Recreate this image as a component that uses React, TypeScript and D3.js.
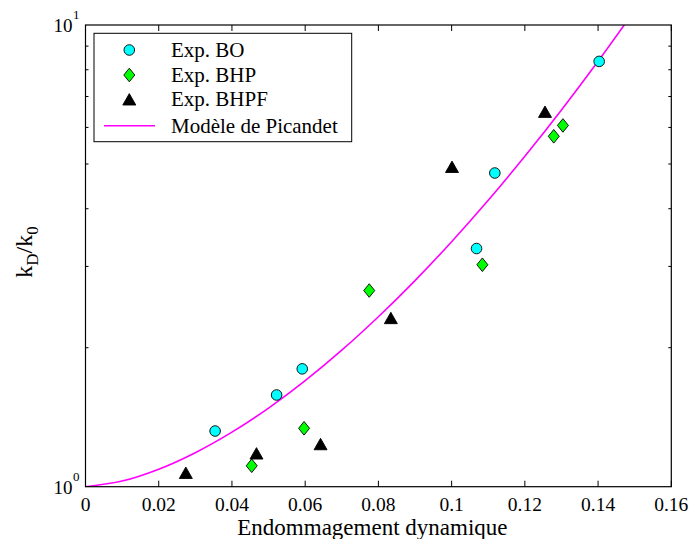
import React from "react";
import * as d3 from "d3";

// Experimental series (damage D, kD/k0)
const boD = [0.0354, 0.0522, 0.0592, 0.1068, 0.1118, 0.1403];
const boK = [1.32, 1.58, 1.80, 3.28, 4.78, 8.34];

const bhpD = [0.0454, 0.0597, 0.0775, 0.1084, 0.1279, 0.1304];
const bhpK = [1.11, 1.338, 2.66, 3.025, 5.74, 6.06];

const bhpfD = [0.0274, 0.0467, 0.0642, 0.0834, 0.1001, 0.1255];
const bhpfK = [1.072, 1.181, 1.237, 2.32, 4.93, 6.49];

// Picandet model curve samples
const modelD = [0, 0.01, 0.02, 0.03, 0.04, 0.05, 0.06, 0.07, 0.08, 0.09, 0.10, 0.11, 0.12, 0.13, 0.14, 0.15];
const modelK = [1, 1.0284, 1.0912, 1.1849, 1.3125, 1.4801, 1.6967, 1.9753, 2.3338, 2.7955, 3.3937, 4.173, 5.1955, 6.5468, 8.3451, 10.762];

const xTicks = [0, 0.02, 0.04, 0.06, 0.08, 0.1, 0.12, 0.14, 0.16];
const xTickLabels = ["0", "0.02", "0.04", "0.06", "0.08", "0.1", "0.12", "0.14", "0.16"];
const yMinorTicks = [2, 3, 4, 5, 6, 7, 8, 9];
const yMajorTicks = [1, 10];
const yMajorExp = ["0", "1"];

const legendLabels = ["Exp. BO", "Exp. BHP", "Exp. BHPF", "Modèle de Picandet"];

const W = 693;
const H = 539;
const L = 85.5;
const R = 671.3;
const T = 25;
const B = 486.7;

const FONT = "'Liberation Serif', 'Times New Roman', serif";

const x = d3.scaleLinear().domain([0, 0.16]).range([L, R]);
const y = d3.scaleLog().domain([1, 10]).range([B, T]);

function Circle({ cx, cy }: { cx: number; cy: number }) {
  return <circle cx={cx} cy={cy} r={5.3} fill="#00ffff" stroke="#000" strokeWidth={0.9} />;
}
function Diamond({ cx, cy }: { cx: number; cy: number }) {
  const w = 5.5, h = 6.8;
  return (
    <path
      d={`M${cx},${cy - h}L${cx + w},${cy}L${cx},${cy + h}L${cx - w},${cy}Z`}
      fill="#00ff00"
      stroke="#000"
      strokeWidth={0.9}
    />
  );
}
function Tri({ cx, cy }: { cx: number; cy: number }) {
  const w = 6.5, h = 5.7;
  return (
    <path
      d={`M${cx},${cy - h}L${cx + w},${cy + h}L${cx - w},${cy + h}Z`}
      fill="#000"
      stroke="#000"
      strokeWidth={0.9}
    />
  );
}

export default function App() {
  const line = d3
    .line<number>()
    .x((_, i) => x(modelD[i]))
    .y((k) => y(k))
    .curve(d3.curveCatmullRom);
  const modelPath = line(modelK) || "";

  const legRows = [50, 75, 99.3, 125.7];

  return (
    <svg width={W} height={H} style={{ position: "absolute", left: 0, top: 0 }} fontFamily={FONT}>
      <rect x={0} y={0} width={W} height={H} fill="#fff" />
      <defs>
        <clipPath id="plotclip">
          <rect x={L} y={T} width={R - L} height={B - T} />
        </clipPath>
      </defs>

      {/* x ticks bottom & top */}
      {xTicks.map((t, i) => (
        <g key={"xt" + i}>
          <line x1={x(t)} x2={x(t)} y1={B} y2={B - 6} stroke="#000" strokeWidth={1} />
          <line x1={x(t)} x2={x(t)} y1={T} y2={T + 6} stroke="#000" strokeWidth={1} />
          <text x={x(t)} y={511} fontSize={19.5} textAnchor="middle" fill="#000">
            {xTickLabels[i]}
          </text>
        </g>
      ))}

      {/* y minor ticks */}
      {yMinorTicks.map((t) => (
        <g key={"ym" + t}>
          <line x1={L} x2={L + 3} y1={y(t)} y2={y(t)} stroke="#000" strokeWidth={1} />
          <line x1={R} x2={R - 3} y1={y(t)} y2={y(t)} stroke="#000" strokeWidth={1} />
        </g>
      ))}

      {/* y major labels */}
      {yMajorTicks.map((t, i) => (
        <g key={"yM" + t}>
          <text x={72.5} y={y(t) + 7} fontSize={19} textAnchor="end" fill="#000">
            10
          </text>
          <text x={73} y={y(t) - 6} fontSize={13} textAnchor="start" fill="#000">
            {yMajorExp[i]}
          </text>
        </g>
      ))}

      {/* model curve */}
      <path d={modelPath} fill="none" stroke="#ff00ff" strokeWidth={1.6} clipPath="url(#plotclip)" />

      {/* data markers */}
      {boD.map((d, i) => (
        <Circle key={"bo" + i} cx={x(d)} cy={y(boK[i])} />
      ))}
      {bhpD.map((d, i) => (
        <Diamond key={"bhp" + i} cx={x(d)} cy={y(bhpK[i])} />
      ))}
      {bhpfD.map((d, i) => (
        <Tri key={"bhpf" + i} cx={x(d)} cy={y(bhpfK[i])} />
      ))}

      {/* frame */}
      <rect x={L} y={T} width={R - L} height={B - T} fill="none" stroke="#000" strokeWidth={1.2} />

      {/* legend */}
      <rect x={94} y={33.3} width={257.7} height={108.4} fill="#fff" stroke="#000" strokeWidth={1} />
      <Circle cx={129.3} cy={legRows[0]} />
      <Diamond cx={129.3} cy={legRows[1]} />
      <Tri cx={129.3} cy={legRows[2]} />
      <line x1={104} x2={155} y1={legRows[3]} y2={legRows[3]} stroke="#ff00ff" strokeWidth={1.6} />
      {legendLabels.map((lab, i) => (
        <text key={lab} x={171} y={legRows[i] + 7} fontSize={21} fill="#000">
          {lab}
        </text>
      ))}

      {/* axis labels */}
      <text x={(L + R) / 2 - 6} y={534.5} fontSize={23} textAnchor="middle" fill="#000">
        Endommagement dynamique
      </text>
      <g transform={`translate(32, 252) rotate(-90)`}>
        <text x={0} y={0} fontSize={24} textAnchor="middle" fill="#000">
          <tspan>k</tspan>
          <tspan fontSize={17} dy={6}>D</tspan>
          <tspan dy={-6}>/k</tspan>
          <tspan fontSize={17} dy={6}>0</tspan>
        </text>
      </g>
    </svg>
  );
}
